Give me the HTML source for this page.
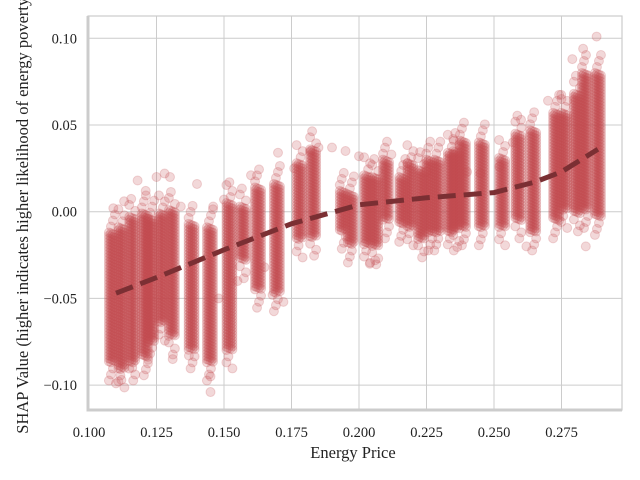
<!DOCTYPE html>
<html><head><meta charset="utf-8"><style>
body{margin:0;background:#fff}
svg{display:block;font-family:"Liberation Serif",serif}
</style></head><body>
<svg id="chart" width="640" height="480"></svg>
<script>
const xTicks=[0.100,0.125,0.150,0.175,0.200,0.225,0.250,0.275];
const xTickLabels=["0.100","0.125","0.150","0.175","0.200","0.225","0.250","0.275"];
const yTicks=[-0.10,-0.05,0.00,0.05,0.10];
const yTickLabels=["−0.10","−0.05","0.00","0.05","0.10"];
// columns of dense SHAP points: price, low, high
const colX=[0.1085,0.112,0.116,0.1207,0.123,0.127,0.1307,0.138,0.1448,0.152,0.157,0.1626,0.1696,0.178,0.183,0.194,0.197,0.203,0.206,0.210,0.216,0.219,0.223,0.226,0.229,0.234,0.236,0.2385,0.2455,0.253,0.259,0.2645,0.273,0.276,0.2807,0.2837,0.2885];
const colLo=[-0.087,-0.091,-0.087,-0.084,-0.075,-0.064,-0.072,-0.080,-0.087,-0.080,-0.028,-0.045,-0.047,-0.016,-0.015,-0.011,-0.019,-0.019,-0.020,-0.005,-0.007,-0.009,-0.016,-0.012,-0.012,-0.012,-0.010,-0.009,-0.009,-0.009,-0.005,-0.012,-0.005,0.001,-0.001,0.001,-0.003];
const colHi=[-0.012,-0.009,-0.003,-0.001,-0.004,-0.001,0.001,-0.007,-0.009,0.005,0.003,0.014,0.016,0.028,0.036,0.012,0.010,0.021,0.020,0.030,0.020,0.028,0.024,0.030,0.030,0.034,0.035,0.041,0.040,0.031,0.045,0.047,0.057,0.057,0.068,0.080,0.080];
// scattered outlier points
const outX=[0.109,0.110,0.112,0.113,0.116,0.118,0.121,0.125,0.128,0.130,0.131,0.134,0.137,0.140,0.145,0.145,0.146,0.148,0.150,0.152,0.155,0.160,0.165,0.168,0.170,0.172,0.176,0.182,0.185,0.190,0.195,0.200,0.204,0.206,0.212,0.218,0.225,0.240,0.245,0.252,0.257,0.260,0.262,0.270,0.275,0.279,0.283,0.284,0.288];
const outY=[0.002,-0.099,-0.097,0.006,-0.090,0.018,0.012,0.020,0.022,0.020,-0.085,0.003,-0.083,0.016,-0.104,-0.095,0.003,-0.050,0.007,0.017,-0.040,0.021,-0.032,-0.048,0.034,-0.052,0.025,0.035,0.037,0.037,0.035,0.032,-0.030,-0.028,0.033,0.028,0.023,0.023,0.022,0.026,0.040,0.053,-0.020,0.064,0.065,0.088,0.094,-0.020,0.101];
const trendX=[0.110,0.125,0.150,0.175,0.200,0.225,0.250,0.265,0.275,0.2885];
const trendY=[-0.047,-0.038,-0.022,-0.007,0.004,0.008,0.011,0.017,0.023,0.036];

const L=88,R=622,T=16,B=410;
const xs=v=>89+(v-0.1)*2700;
const ys=v=>211.7-v*1734;
const svg=document.getElementById('chart');
const NS='http://www.w3.org/2000/svg';
function mk(tag,attrs,parent){const e=document.createElementNS(NS,tag);for(const k in attrs)e.setAttribute(k,attrs[k]);(parent||svg).appendChild(e);return e;}

const grid=mk('g',{});


xTicks.forEach((t,i)=>{
  const l=mk('line',{x1:xs(t),x2:xs(t),y1:T,y2:B,stroke:'#cccccc','stroke-width':1},grid);
  
  
  const tx=mk('text',{x:xs(t),y:437,'text-anchor':'middle','font-size':14.5,fill:'#222'});
  tx.textContent=xTickLabels[i];
  
  
});
yTicks.forEach((t,i)=>{
  const l=mk('line',{x1:L,x2:R,y1:ys(t),y2:ys(t),stroke:'#cccccc','stroke-width':1},grid);
  
  
  const tx=mk('text',{x:77,y:ys(t)+5,'text-anchor':'end','font-size':14.5,fill:'#222'});
  tx.textContent=yTickLabels[i];
  
  
});
const frame=mk('rect',{x:L,y:T,width:R-L,height:B-T,fill:'none',stroke:'#cccccc','stroke-width':1.2});


const sp1=mk('line',{x1:L,x2:L,y1:T,y2:B+1.5,stroke:'#cccccc','stroke-width':3});


const sp2=mk('line',{x1:L-1.5,x2:R,y1:B,y2:B,stroke:'#cccccc','stroke-width':3});



const pts=mk('g',{fill:'#c44e52',stroke:'#c44e52','fill-opacity':0.22,'stroke-opacity':0.22,'stroke-width':1});


const offs=[-3,-1,1,3];
colX.forEach((x,i)=>{
  const y0=ys(colHi[i]),y1=ys(colLo[i]);
  offs.forEach((o,k)=>{
    for(let py=y0+k*0.8;py<=y1;py+=3){
      const c=mk('circle',{cx:xs(x)+o,cy:py,r:4.5},pts);
      
      
    }
  });
  // sparse fuzzy tails above and below the dense core
  for(let j=1;j<=3;j++){
    const o=offs[(i+j)%4];
    const a=mk('circle',{cx:xs(x)+o,cy:y0-j*6,r:4.5},pts);
    
    
    const b=mk('circle',{cx:xs(x)-o,cy:y1+j*6,r:4.5},pts);
    
    
  }
});
outX.forEach((x,i)=>{
  const c=mk('circle',{cx:xs(x),cy:ys(outY[i]),r:4.5},pts);
  
  
});

const d=trendX.map((x,i)=>(i?'L':'M')+xs(x).toFixed(1)+' '+ys(trendY[i]).toFixed(1)).join(' ');
const tl=mk('path',{d:d,fill:'none',stroke:'#7b2f33','stroke-width':5,'stroke-dasharray':'18 8','stroke-linecap':'butt'});



const xl=mk('text',{x:353,y:458,'text-anchor':'middle','font-size':16.5,fill:'#222'});
xl.textContent='Energy Price';


const yl=mk('text',{x:0,y:0,'text-anchor':'middle','font-size':16.5,fill:'#222',transform:'translate(28,213) rotate(-90)'});
yl.textContent='SHAP Value (higher indicates higher likelihood of energy poverty)';


</script>
</body></html>
